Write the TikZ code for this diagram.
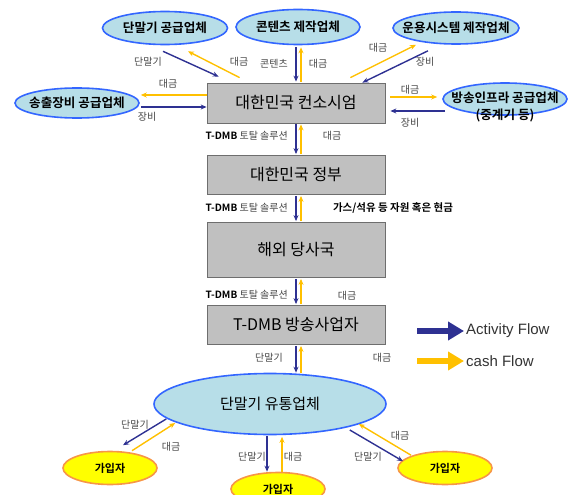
\documentclass[tikz,border=0pt]{standalone}
\usepackage{fontspec}
\setmainfont{Noto Sans CJK KR}[BoldFont={Noto Sans CJK KR Bold}]
\newfontfamily\legendfont{Liberation Sans}
\usetikzlibrary{arrows.meta,shapes.geometric,calc}
\definecolor{ActBlue}{RGB}{46,49,146}
\definecolor{CashYellow}{RGB}{255,192,0}
\definecolor{BoxGray}{RGB}{192,192,192}
\definecolor{BoxEdge}{RGB}{110,110,110}
\definecolor{EllFill}{RGB}{183,222,232}
\definecolor{EllEdge}{RGB}{51,102,255}
\definecolor{SubFill}{RGB}{255,255,0}
\definecolor{SubEdge}{RGB}{247,150,70}
\definecolor{TextGray}{RGB}{70,70,70}
\tikzset{
  act/.style={draw=ActBlue, line width=1.4pt, -{Stealth[length=6pt,width=5pt]}},
  cash/.style={draw=CashYellow, line width=1.4pt, -{Stealth[length=6pt,width=5pt]}},
  actleg/.style={draw=ActBlue, line width=6.5pt, -{Triangle[length=16pt,width=18pt]}},
  cashleg/.style={draw=CashYellow, line width=6.5pt, -{Triangle[length=16pt,width=18pt]}},
  mainbox/.style={rectangle, draw=BoxEdge, fill=BoxGray, line width=0.8pt,
    minimum width=178pt, font=\fontsize{16}{18}\selectfont},
  supell/.style={ellipse, draw=EllEdge, fill=EllFill, line width=1.6pt, inner sep=0pt},
  subell/.style={ellipse, draw=SubEdge, fill=SubFill, line width=1.6pt, inner sep=0pt,
    minimum width=94pt, minimum height=33pt, font=\bfseries\fontsize{11}{13}\selectfont},
  elltxt/.style={font=\bfseries\fontsize{12.6}{17}\selectfont, align=center, inner sep=0pt},
  flowlbl/.style={font=\fontsize{10}{12}\selectfont, text=TextGray, inner sep=1pt},
  sollbl/.style={flowlbl, anchor=east},
  legtxt/.style={font=\legendfont\fontsize{15}{17}\selectfont, text=black!80, anchor=west, inner sep=2pt}
}
\begin{document}
\begin{tikzpicture}[x=1pt,y=-1pt]
\useasboundingbox (0,0) rectangle (568,495);

% suppliers
\node[supell, minimum width=125pt, minimum height=33pt] (trm) at (165,28) {};
\node[elltxt] (trmtxt) at (trm) {단말기 공급업체};
\node[supell, minimum width=124pt, minimum height=35pt] (cnt) at (298,27) {};
\node[elltxt] (cnttxt) at (cnt) {콘텐츠 제작업체};
\node[supell, minimum width=126pt, minimum height=32pt] (ops) at (456,28) {};
\node[elltxt] (opstxt) at (ops) {운용시스템 제작업체};
\node[supell, minimum width=124pt, minimum height=30pt] (txe) at (77,103) {};
\node[elltxt] (txetxt) at (txe) {송출장비 공급업체};
\node[supell, minimum width=124pt, minimum height=32pt] (inf) at (505,99) {};
\node[elltxt] (inftxt) at (505,107) {방송인프라 공급업체\\(중계기 등)};

% main chain
\node[mainbox, minimum height=40pt] (kor) at (296,103) {대한민국 컨소시엄};
\node[mainbox, minimum height=39pt] (gov) at (296,175) {대한민국 정부};
\node[mainbox, minimum height=55pt] (frn) at (296,250) {해외 당사국};
\node[mainbox, minimum height=39pt] (brd) at (296,325) {T-DMB 방송사업자};
\node[supell, minimum width=232pt, minimum height=61pt, font=\fontsize{15}{17}\selectfont] (dst) at (270,404) {단말기 유통업체};

% subscribers
\node[subell] (subl) at (110,468) {가입자};
\node[subell] (subm) at (278,489) {가입자};
\node[subell] (subr) at (445,468) {가입자};

% flows around the consortium
\draw[act] ($(trm.south)+(-2,6)$) -- ($(kor.north west)+(12,-6)$);
\draw[cash] ($(kor.north west)+(33,-5)$) -- ($(trm.south)+(23,6)$);
\node[flowlbl] (l1) at (148,62) {단말기};
\node[flowlbl] (l2) at (239,62) {대금};

\draw[act] ($(cnt.south)+(-2,2)$) -- ($(kor.north)+(0,-1)$);
\draw[cash] ($(kor.north)+(5,-1)$) -- ($(cnt.south)+(3,2)$);
\node[flowlbl] (l3) at (274,64) {콘텐츠};
\node[flowlbl] (l4) at (318,64) {대금};

\draw[cash] ($(kor.north east)+(-35,-5)$) -- ($(ops.south)+(-40,0)$);
\draw[act] ($(ops.south)+(-28,6)$) -- ($(kor.north east)+(-23,0)$);
\node[flowlbl] (l5) at (378,48) {대금};
\node[flowlbl] (l6) at (425,62) {장비};

\draw[cash] ($(kor.west)+(0,-8)$) -- ($(txe.east)+(1,-8)$);
\draw[act] ($(txe.east)+(1,4)$) -- ($(kor.west)+(0,4)$);
\node[flowlbl] (l7) at (168,84) {대금};
\node[flowlbl] (l8) at (147,117) {장비};

\draw[cash] ($(kor.east)+(5,-6)$) -- ($(inf.west)+(-5,-2)$);
\draw[act] ($(inf.west)+(3,12)$) -- ($(kor.east)+(5,8)$);
\node[flowlbl] (l9) at (410,90) {대금};
\node[flowlbl] (l10) at (410,123) {장비};

% vertical chain
\draw[act] ($(kor.south)+(0,1)$) -- ($(gov.north)+(0,-1)$);
\draw[cash] ($(gov.north)+(5,-1)$) -- ($(kor.south)+(5,1)$);
\node[sollbl] (s1) at (289,136) {\textcolor{black}{\textbf{T-DMB}} 토탈 솔루션};
\node[flowlbl] (l11) at (332,136) {대금};

\draw[act] ($(gov.south)+(0,1)$) -- ($(frn.north)+(0,-1)$);
\draw[cash] ($(frn.north)+(5,-1)$) -- ($(gov.south)+(5,1)$);
\node[sollbl] (s2) at (289,208) {\textcolor{black}{\textbf{T-DMB}} 토탈 솔루션};
\node[flowlbl, text=black, font=\bfseries\fontsize{10.5}{12}\selectfont] (l12) at (393,208) {가스/석유 등 자원 혹은 현금};

\draw[act] ($(frn.south)+(0,1)$) -- ($(brd.north)+(0,-1)$);
\draw[cash] ($(brd.north)+(5,-1)$) -- ($(frn.south)+(5,1)$);
\node[sollbl] (s3) at (289,295) {\textcolor{black}{\textbf{T-DMB}} 토탈 솔루션};
\node[flowlbl] (l13) at (347,296) {대금};

\draw[act] ($(brd.south)+(0,1)$) -- ($(dst.north)+(26,0)$);
\draw[cash] ($(dst.north)+(31,0)$) -- ($(brd.south)+(5,1)$);
\node[flowlbl] (l14) at (269,358) {단말기};
\node[flowlbl] (l15) at (382,358) {대금};

% distribution to subscribers
\draw[act] ($(dst.west)+(13,15)$) -- ($(subl.north)+(13,-5.5)$);
\draw[cash] ($(subl.north)+(22,0)$) -- ($(dst.west)+(22,19)$);
\node[flowlbl] (l16) at (135,425) {단말기};
\node[flowlbl] (l17) at (171,447) {대금};

\draw[act] ($(dst.south)+(-3,1)$) -- ($(subm.north)+(-11,0)$);
\draw[cash] ($(subm.north)+(4,0)$) -- ($(dst.south)+(12,1.5)$);
\node[flowlbl] (l18) at (252,457) {단말기};
\node[flowlbl] (l19) at (293,457) {대금};

\draw[act] ($(dst.east)+(-37,26)$) -- ($(subr.north)+(-42,10.5)$);
\draw[cash] ($(subr.north)+(-34,4.5)$) -- ($(dst.east)+(-28,20)$);
\node[flowlbl] (l20) at (368,457) {단말기};
\node[flowlbl] (l21) at (400,436) {대금};

% legend
\coordinate (actA) at (417,331);
\coordinate (actB) at (464,331);
\coordinate (cashA) at (417,361);
\coordinate (cashB) at (464,361);
\draw[actleg] (actA) -- (actB);
\node[legtxt] (actlbl) at (actB) {Activity Flow};
\draw[cashleg] (cashA) -- (cashB);
\node[legtxt] (cashlbl) at (cashB) {cash Flow};
\end{tikzpicture}
\end{document}
